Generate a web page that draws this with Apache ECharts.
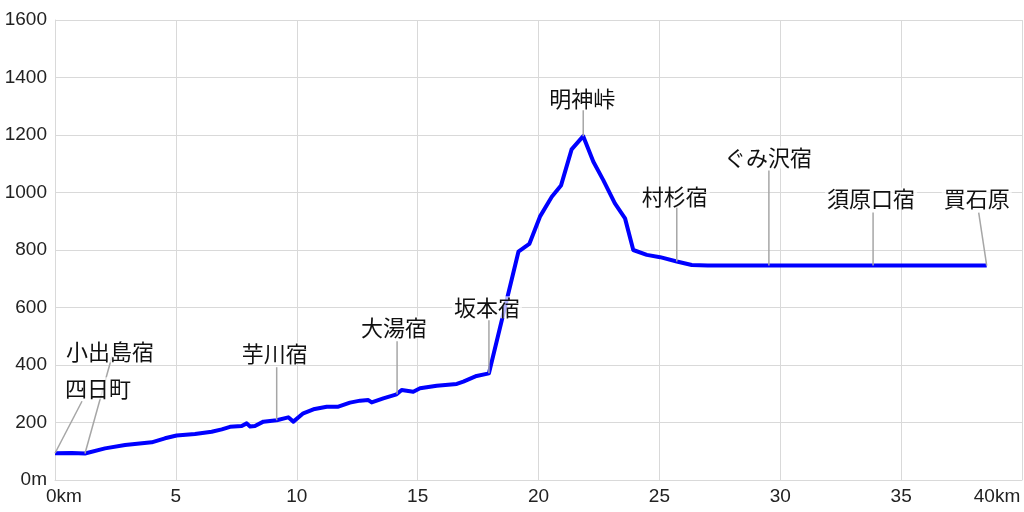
<!DOCTYPE html>
<html>
<head>
<meta charset="utf-8">
<script src="https://cdn.jsdelivr.net/npm/echarts@6/dist/echarts.min.js"></script>
<style>
  html, body { margin: 0; padding: 0; background: #fff; }
  #chart { width: 1024px; height: 512px; }
</style>
</head>
<body>
<div id="chart"></div>
<script>
/* ---------- 標高プロファイル (km, m) ---------- */
const distKm = [
  0, 0.7, 1.24, 2.07, 2.9, 4.0, 4.55, 5.03, 5.79, 6.48, 6.9, 7.24, 7.72, 7.93, 8.07, 8.27,
  8.62, 9.17, 9.65, 9.86, 10.27, 10.69, 11.24, 11.72, 12.2, 12.62, 12.96, 13.1, 13.58,
  14.13, 14.34, 14.82, 15.1, 15.79, 16.62, 16.89, 17.44, 17.95,
  19.17, 19.62, 20.06, 20.55, 20.93, 21.37, 21.85, 22.27, 22.68, 23.16, 23.58, 23.92,
  24.48, 25.03, 25.72, 26.34, 27.0, 38.54,
];
const elevM = [
  93, 94, 92, 110, 122, 131, 145, 155, 160, 168, 176, 185, 188, 197, 186, 188,
  203, 208, 218, 203, 232, 246, 255, 255, 269, 276, 278, 270, 284,
  298, 313, 307, 319, 328, 334, 342, 362, 371,
  794, 821, 916, 985, 1024, 1150, 1196, 1107, 1043, 962, 910, 800,
  783, 775, 760, 748, 746, 746,
];

/* ---------- 地点 ---------- */
const stationNames = ['四日町', '小出島宿', '芋川宿', '大湯宿', '坂本宿', '明神峠', '村杉宿', 'ぐみ沢宿', '須原口宿', '買石原'];
const stationKm = [0, 1.24, 9.17, 14.15, 17.95, 21.85, 25.72, 29.53, 33.84, 38.54];
const stationElev = [93, 92, 208, 298, 371, 1196, 760, 746, 746, 746];

// 引出線の先端 (px, 地点からの相対) とラベル中心 (px, 引出線先端からの相対)
const leaderTip = [[27, -52], [27, -97], [0, -53], [0, -53], [0, -53], [0, -26], [0, -54], [0, -95], [0, -53], [-8, -53]];
const labelShift = [[16, -13], [-2, -5], [-2, -14], [-3, -14], [-2, -13], [-1, -12], [-2, -11], [-1, -13], [-2, -14], [-2, -14]];

const xTicks = { min: 0, max: 40, interval: 5 };
const yTicks = { min: 0, max: 1600, interval: 200 };

const chart = echarts.init(document.getElementById('chart'));
const gridColor = '#d9d9d9';
const axisFont = { fontFamily: 'Liberation Sans', fontSize: 19, color: '#222' };

chart.setOption({
  animation: false,
  grid: { left: 55, right: 2, top: 20, bottom: 32 },
  xAxis: {
    type: 'value',
    ...xTicks,
    axisLine: { show: true, lineStyle: { color: gridColor } },
    axisTick: { show: false },
    splitLine: { show: true, lineStyle: { color: gridColor, width: 1 } },
    axisLabel: {
      ...axisFont,
      margin: 7,
      formatter: (v) => (v === 0 ? '{l|0km}' : v === 40 ? '{r|40km}' : String(v)),
      rich: {
        l: { ...axisFont, padding: [0, 0, 0, 18] },
        r: { ...axisFont, padding: [0, 50, 0, 0] },
      },
    },
  },
  yAxis: {
    type: 'value',
    ...yTicks,
    axisLine: { show: true, lineStyle: { color: gridColor } },
    axisTick: { show: false },
    splitLine: { show: true, lineStyle: { color: gridColor, width: 1 } },
    axisLabel: {
      ...axisFont,
      margin: 8,
      formatter: (v) => (v === 0 ? '0m' : String(v)),
    },
  },
  series: [
    {
      type: 'line',
      data: distKm.map((d, i) => [d, elevM[i]]),
      symbol: 'none',
      lineStyle: { color: '#0000ff', width: 4, join: 'round' },
      z: 3,
    },
  ],
});

/* ---------- 地点ラベル + 引出線 ---------- */
const graphics = [];
stationNames.forEach((name, i) => {
  const p = chart.convertToPixel({ gridIndex: 0 }, [stationKm[i], stationElev[i]]);
  const tip = [p[0] + leaderTip[i][0], p[1] + leaderTip[i][1]];
  graphics.push({
    type: 'line',
    shape: { x1: p[0], y1: p[1], x2: tip[0], y2: tip[1] },
    style: { stroke: '#a6a6a6', lineWidth: 1.5 },
    z: 10,
  });
  graphics.push({
    type: 'text',
    x: tip[0] + labelShift[i][0],
    y: tip[1] + labelShift[i][1],
    style: {
      text: name,
      fontFamily: 'Noto Sans CJK JP',
      fontSize: 22,
      fill: '#111',
      align: 'center',
      verticalAlign: 'middle',
      backgroundColor: 'rgba(255,255,255,0.7)',
      padding: [0, 2],
    },
    z: 11,
  });
});
chart.setOption({ graphic: graphics });
</script>
</body>
</html>
